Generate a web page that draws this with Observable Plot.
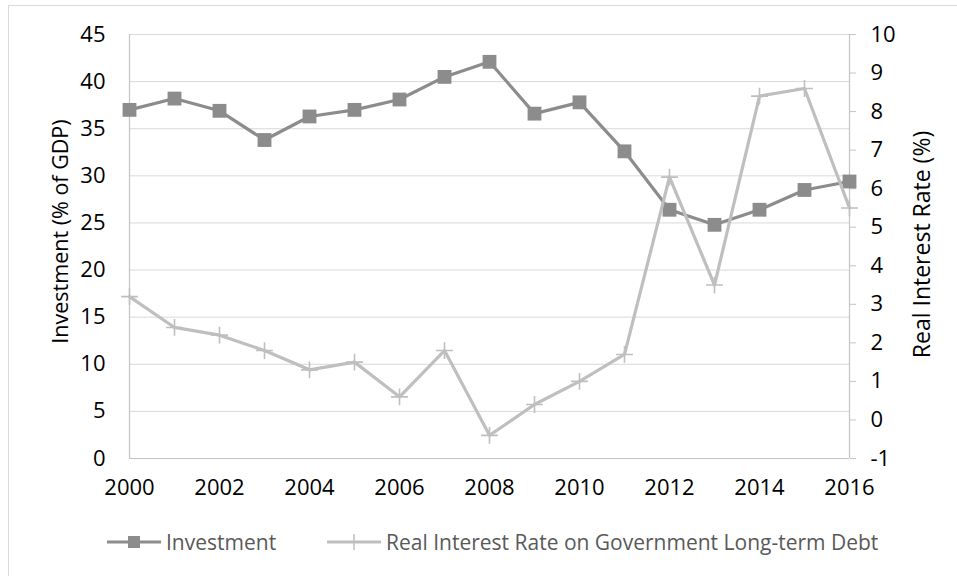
<!DOCTYPE html>
<html>
<head>
<meta charset="utf-8">
<script src="https://cdn.jsdelivr.net/npm/d3@7"></script>
<script src="https://cdn.jsdelivr.net/npm/@observablehq/plot@0.6"></script>
<style>
  html, body { margin: 0; padding: 0; background: #fff; }
  #wrap { position: relative; width: 957px; height: 576px; overflow: hidden; font-family: "Open Sans", sans-serif; }
  #frame { position: absolute; left: 8px; top: 5px; width: 1000px; height: 600px; border-left: 1px solid #d9d9d9; border-top: 1px solid #d9d9d9; }
  #chart { position: absolute; left: 0; top: 0; }
  #legend { position: absolute; left: 0; top: 527px; width: 957px; height: 30px; }
  .item { position: absolute; top: 0; display: flex; align-items: center; color: #595959; font-size: 21px; white-space: nowrap; }
  .item svg { margin-right: 5px; }
</style>
</head>
<body>
<div id="wrap">
  <div id="frame"></div>
  <div id="chart"></div>
  <div id="legend"></div>
</div>
<script>
const years = [2000,2001,2002,2003,2004,2005,2006,2007,2008,2009,2010,2011,2012,2013,2014,2015,2016];
const investment = [37.0,38.2,36.9,33.8,36.3,37.0,38.1,40.5,42.1,36.6,37.8,32.6,26.4,24.8,26.4,28.5,29.4];
const realRate = [3.2,2.4,2.2,1.8,1.3,1.5,0.6,1.8,-0.4,0.4,1.0,1.7,6.3,3.5,8.4,8.6,5.5];
const leftTicks = [0,5,10,15,20,25,30,35,40,45];
const rightTicks = [-1,0,1,2,3,4,5,6,7,8,9,10];
const xTicks = [2000,2002,2004,2006,2008,2010,2012,2014,2016];
const seriesNames = ["Investment", "Real Interest Rate on Government Long-term Debt"];
const leftTitle = "Investment (% of GDP)";
const rightTitle = "Real Interest Rate (%)";

// secondary axis [-1, 10] mapped onto primary [0, 45]
const toLeft = r => (r + 1) * 45 / 11;
const toRight = v => v * 11 / 45 - 1;

const invData = years.map((y, i) => ({year: y, value: investment[i]}));
const rateData = years.map((y, i) => ({year: y, value: toLeft(realRate[i])}));

const plusSymbol = {
  draw(context, size) {
    const r = Math.sqrt(size) / 2;
    context.moveTo(-r, 0); context.lineTo(r, 0);
    context.moveTo(0, -r); context.lineTo(0, r);
  }
};

const INV = "#8c8c8c", RATE = "#bfbfbf", GRID = "#d9d9d9", AXIS = "#c4c4c4";

const chart = Plot.plot({
  width: 957,
  height: 500,
  marginLeft: 129,
  marginRight: 108,
  marginTop: 34,
  marginBottom: 42,
  style: {fontFamily: "Open Sans, sans-serif", fontSize: "22px", color: "#000", background: "transparent"},
  x: {domain: [2000, 2016]},
  y: {domain: [0, 45]},
  marks: [
    Plot.gridY(leftTicks.filter(d => d > 0), {stroke: GRID, strokeOpacity: 1, strokeWidth: 1}),
    Plot.ruleY([0], {stroke: AXIS, strokeWidth: 1.2}),
    Plot.ruleX([2000], {stroke: AXIS, strokeWidth: 1.2}),
    Plot.ruleX([2016], {stroke: AXIS, strokeWidth: 1.2}),
    Plot.axisY(leftTicks, {anchor: "left", tickSize: 0, tickPadding: 24, label: null, fontSize: 22, fill: "#000"}),
    Plot.axisY(rightTicks.map(toLeft), {anchor: "right", tickSize: 6, tickPadding: 15, stroke: AXIS, label: null, fontSize: 22, fill: "#000", tickFormat: d => String(Math.round(toRight(d)))}),
    Plot.axisX(xTicks, {anchor: "bottom", tickSize: 0, tickPadding: 21, label: null, fontSize: 22, fill: "#000", tickFormat: d => String(d)}),
    Plot.text([leftTitle], {text: d => d, frameAnchor: "left", textAnchor: "middle", rotate: -90, dx: -68, dy: -15, fontSize: 21.5, fill: "#000"}),
    Plot.text([rightTitle], {text: d => d, frameAnchor: "right", textAnchor: "middle", rotate: -90, dx: 73, dy: -2, fontSize: 23, fill: "#000"}),
    Plot.line(invData, {x: "year", y: "value", stroke: INV, strokeWidth: 3.2}),
    Plot.dot(invData, {x: "year", y: "value", symbol: "square", r: 7.8, fill: INV, stroke: "none"}),
    Plot.line(rateData, {x: "year", y: "value", stroke: RATE, strokeWidth: 3.2}),
    Plot.dot(rateData, {x: "year", y: "value", symbol: plusSymbol, r: 9.5, fill: "none", stroke: RATE, strokeWidth: 1.6})
  ]
});
document.getElementById("chart").appendChild(chart);

// legend
const legend = document.getElementById("legend");
const lefts = [107, 327];
seriesNames.forEach((name, i) => {
  const item = document.createElement("div");
  item.className = "item";
  item.style.left = lefts[i] + "px";
  const color = i === 0 ? INV : RATE;
  const marker = i === 0
    ? `<rect x="21" y="9" width="12" height="12" fill="${color}"/>`
    : `<path d="M27 7 V23 M20 15 H34" stroke="${color}" stroke-width="1.5"/>`;
  item.innerHTML = `<svg width="54" height="30"><line x1="0" x2="54" y1="15" y2="15" stroke="${color}" stroke-width="3.2"/>${marker}</svg><span>${name}</span>`;
  legend.appendChild(item);
});
</script>
</body>
</html>
